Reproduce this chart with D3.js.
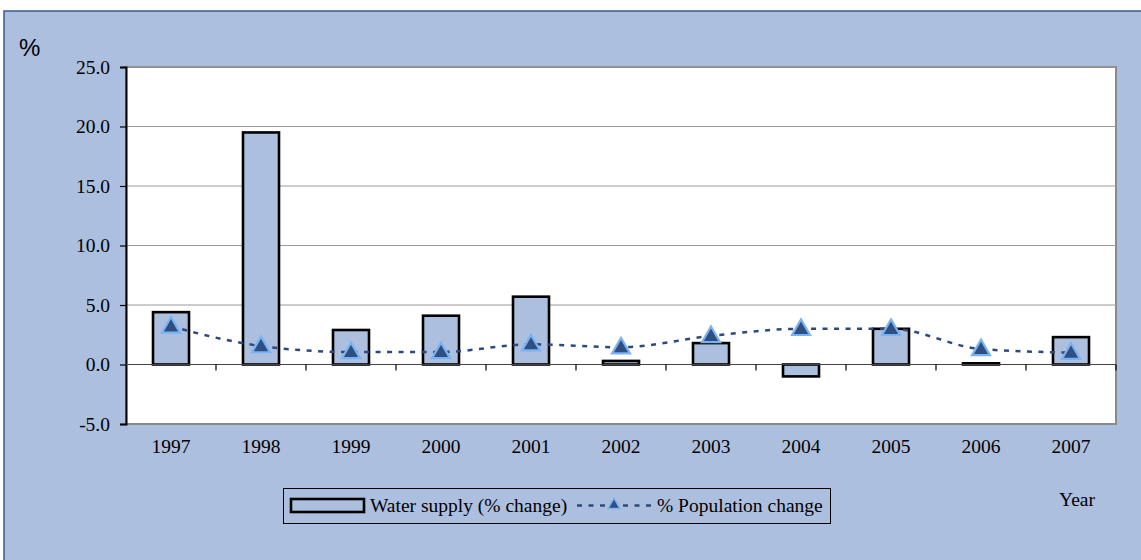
<!DOCTYPE html>
<html>
<head>
<meta charset="utf-8">
<script src="https://cdn.jsdelivr.net/npm/d3@7"></script>
<style>
  body { margin: 0; background: #fff; }
  svg { display: block; }
  .tick text { font-family: "Liberation Serif", "Times New Roman", serif; fill: #000; }
</style>
</head>
<body>
<svg width="1141" height="560"></svg>
<script>
    var years = ['1997', '1998', '1999', '2000', '2001', '2002', '2003', '2004', '2005', '2006', '2007'];
    var water = [4.4, 19.5, 2.9, 4.1, 5.7, 0.3, 1.8, -1.0, 3.0, 0.1, 2.3];
    var population = [3.2, 1.55, 1.05, 1.05, 1.7, 1.45, 2.4, 3.0, 3.0, 1.3, 1.0];
    var yTicks = [-5, 0, 5, 10, 15, 20, 25];

    var bg = '#adbfdf';
    var serif = '"Liberation Serif", "Times New Roman", serif';
    var svg = d3.select('svg');

    // chart area background
    svg.append('rect')
      .attr('x', 4).attr('y', 11)
      .attr('width', 1160).attr('height', 580)
      .attr('fill', bg)
      .attr('stroke', '#3d5a8c')
      .attr('stroke-width', 1.5);

    var plotLeft = 126, plotRight = 1116, plotTop = 67, plotBottom = 424;

    var xCat = d3.scaleBand()
      .domain(years)
      .range([plotLeft, plotRight]);

    var xBar = d3.scaleBand()
      .domain(years)
      .range([plotLeft, plotRight])
      .paddingInner(0.6)
      .paddingOuter(0.3);

    var y = d3.scaleLinear()
      .domain([-5, 25])
      .range([plotBottom, plotTop]);

    // plot area
    svg.append('rect')
      .attr('x', plotLeft).attr('y', plotTop)
      .attr('width', plotRight - plotLeft).attr('height', plotBottom - plotTop)
      .attr('fill', '#fff')
      .attr('stroke', '#8a8a8a')
      .attr('stroke-width', 2);

    // grid lines
    svg.append('g')
      .selectAll('line')
      .data(yTicks.filter((d) => d > 0))
      .enter()
      .append('line')
      .attr('x1', plotLeft).attr('x2', plotRight)
      .attr('y1', (d) => y(d)).attr('y2', (d) => y(d))
      .attr('stroke', '#9a9a9a')
      .attr('stroke-width', 1);

    // y axis
    var yAxis = svg.append('g')
      .attr('transform', `translate(${plotLeft}, 0)`)
      .call(d3.axisLeft(y)
        .tickValues(yTicks)
        .tickFormat((d) => d.toFixed(1))
        .tickSize(6)
        .tickPadding(10));
    yAxis.select('.domain').attr('stroke', '#000').attr('stroke-width', 2);
    yAxis.selectAll('.tick line').attr('stroke', '#000').attr('stroke-width', 1.2);
    yAxis.selectAll('.tick text').attr('font-size', 19.5);

    // bars
    svg.append('g')
      .selectAll('rect')
      .data(years)
      .enter()
      .append('rect')
      .attr('x', (d) => xBar(d))
      .attr('width', xBar.bandwidth())
      .attr('y', (d, i) => y(Math.max(0, water[i])))
      .attr('height', (d, i) => Math.abs(y(water[i]) - y(0)))
      .attr('fill', bg)
      .attr('stroke', '#000')
      .attr('stroke-width', 2.6);

    // zero line and category ticks
    svg.append('line')
      .attr('x1', plotLeft).attr('x2', plotRight)
      .attr('y1', y(0)).attr('y2', y(0))
      .attr('stroke', '#444')
      .attr('stroke-width', 1.2);

    svg.append('g')
      .selectAll('line')
      .data(years)
      .enter()
      .append('line')
      .attr('x1', (d) => xCat(d) + xCat.bandwidth())
      .attr('x2', (d) => xCat(d) + xCat.bandwidth())
      .attr('y1', y(0)).attr('y2', y(0) + 6)
      .attr('stroke', '#000')
      .attr('stroke-width', 1.2);

    // x labels
    var xAxis = svg.append('g')
      .attr('transform', `translate(0, ${plotBottom})`)
      .call(d3.axisBottom(xCat).tickSize(0).tickPadding(15));
    xAxis.select('.domain').remove();
    xAxis.selectAll('.tick text').attr('font-size', 19.5);

    // population line
    var line = d3.line()
      .x((d, i) => xCat(years[i]) + xCat.bandwidth() / 2)
      .y((d) => y(d))
      .curve(d3.curveMonotoneX);

    svg.append('path')
      .datum(population)
      .attr('d', line)
      .attr('fill', 'none')
      .attr('stroke', '#2e4a7d')
      .attr('stroke-width', 2.5)
      .attr('stroke-dasharray', '5,6.5');

    var tri = d3.symbol().type(d3.symbolTriangle).size(140);

    svg.append('g')
      .selectAll('path')
      .data(population)
      .enter()
      .append('path')
      .attr('d', tri)
      .attr('transform', (d, i) => `translate(${xCat(years[i]) + xCat.bandwidth() / 2}, ${y(d) + 1})`)
      .attr('fill', '#2f4f82')
      .attr('stroke', '#7ab3f2')
      .attr('stroke-width', 2.2);

    // labels
    svg.append('text')
      .attr('x', 19).attr('y', 56)
      .attr('font-family', '"Liberation Sans", Arial, sans-serif')
      .attr('font-size', 24)
      .text('%');

    svg.append('text')
      .attr('x', 1077).attr('y', 506)
      .attr('text-anchor', 'middle')
      .attr('font-family', serif)
      .attr('font-size', 19.5)
      .text('Year');

    // legend
    var legend = svg.append('g');
    legend.append('rect')
      .attr('x', 283.5).attr('y', 488.5)
      .attr('width', 547).attr('height', 35)
      .attr('fill', bg)
      .attr('stroke', '#000')
      .attr('stroke-width', 1);

    legend.append('rect')
      .attr('x', 291).attr('y', 499)
      .attr('width', 73).attr('height', 13)
      .attr('fill', bg)
      .attr('stroke', '#000')
      .attr('stroke-width', 2.6);

    legend.append('text')
      .attr('x', 370).attr('y', 512)
      .attr('font-family', serif)
      .attr('font-size', 19.5)
      .text('Water supply (% change)');

    legend.append('line')
      .attr('x1', 577).attr('x2', 651)
      .attr('y1', 505.5).attr('y2', 505.5)
      .attr('stroke', '#2e4a7d')
      .attr('stroke-width', 2.5)
      .attr('stroke-dasharray', '5,6.5');

    legend.append('path')
      .attr('d', d3.symbol().type(d3.symbolTriangle).size(60))
      .attr('transform', 'translate(614, 505)')
      .attr('fill', '#2f4f82')
      .attr('stroke', '#7ab3f2')
      .attr('stroke-width', 1.5);

    legend.append('text')
      .attr('x', 657).attr('y', 512)
      .attr('font-family', serif)
      .attr('font-size', 19.5)
      .text('% Population change');
</script>
</body>
</html>
